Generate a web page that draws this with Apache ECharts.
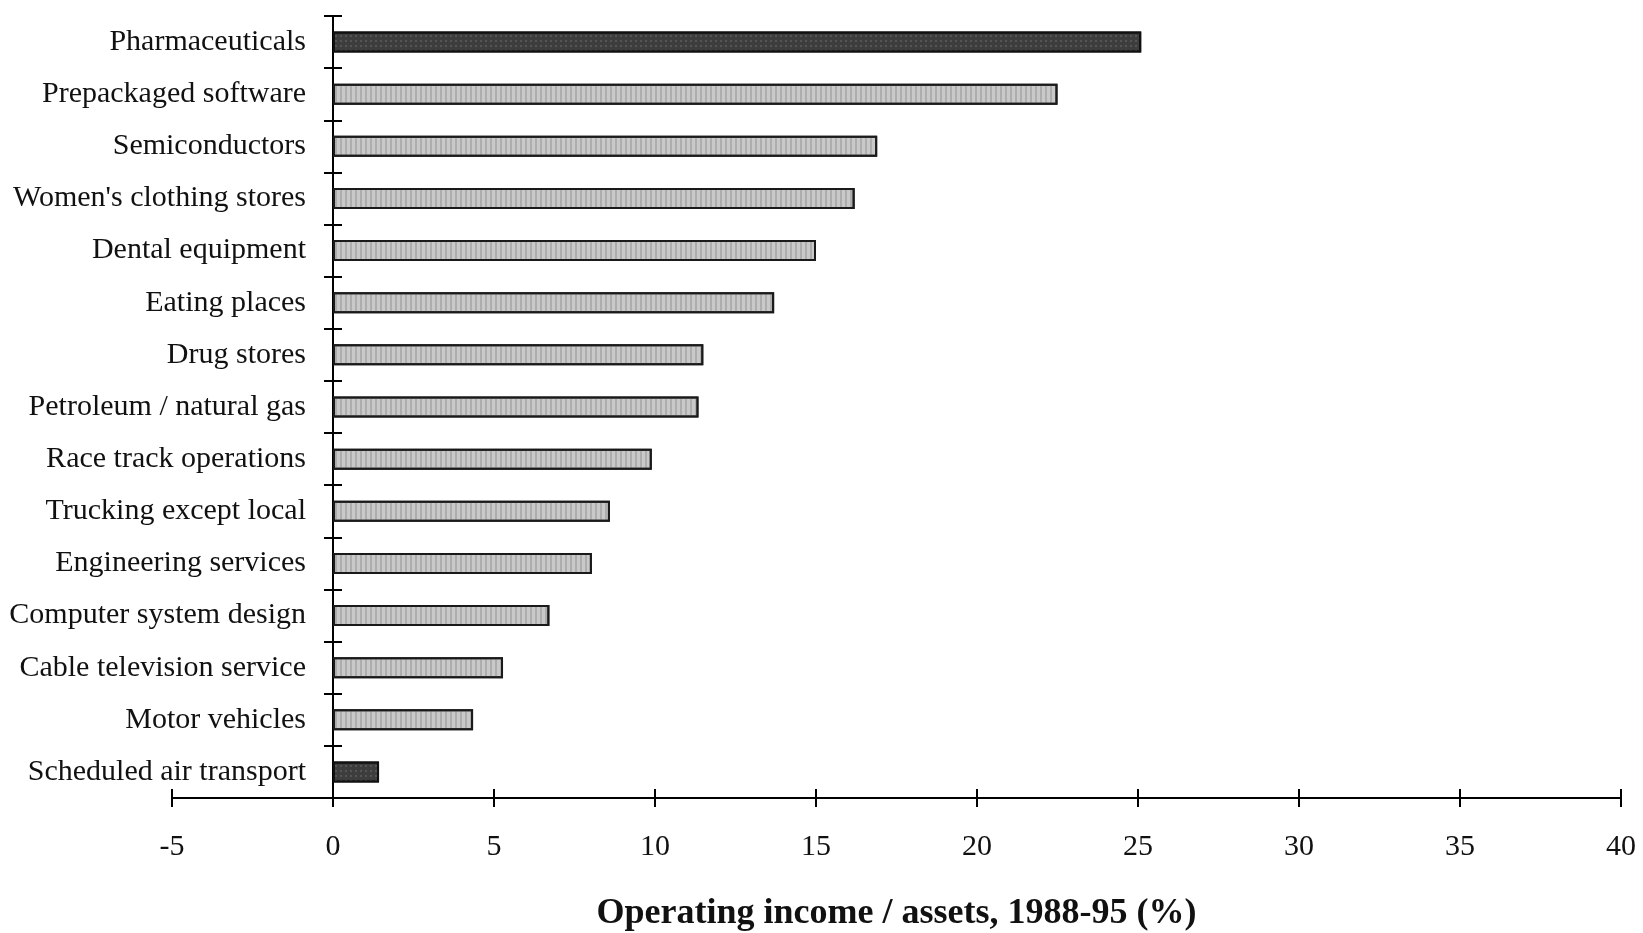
<!DOCTYPE html>
<html>
<head>
<meta charset="utf-8">
<script src="https://cdn.jsdelivr.net/npm/echarts@6/dist/echarts.min.js"></script>
<style>
  html, body { margin: 0; padding: 0; background: #fff; }
  #chart { width: 1643px; height: 933px; }
</style>
</head>
<body>
<div id="chart"></div>
<script>
const categories = [
  'Pharmaceuticals',
  'Prepackaged software',
  'Semiconductors',
  "Women's clothing stores",
  'Dental equipment',
  'Eating places',
  'Drug stores',
  'Petroleum / natural gas',
  'Race track operations',
  'Trucking except local',
  'Engineering services',
  'Computer system design',
  'Cable television service',
  'Motor vehicles',
  'Scheduled air transport'
];
const values = [25.1, 22.5, 16.9, 16.2, 15.0, 13.7, 11.5, 11.35, 9.9, 8.6, 8.04, 6.72, 5.28, 4.35, 1.43];
const darkCategories = ['Pharmaceuticals', 'Scheduled air transport'];
const xMin = -5, xMax = 40, xStep = 5;
const xTitle = 'Operating income / assets, 1988-95 (%)';

const serif = '"Liberation Serif", "Times New Roman", serif';
const lightStyle = {
  color: '#c9c9c9', borderColor: '#1a1a1a', borderWidth: 2,
  decal: { symbol: 'rect', symbolSize: 1, dashArrayX: [2, 3], dashArrayY: [10, 0], color: 'rgba(120,120,120,0.35)' }
};
const darkStyle = {
  color: '#3d3d3d', borderColor: '#111', borderWidth: 2,
  decal: { symbol: 'rect', symbolSize: 1, dashArrayX: [2, 3], dashArrayY: [2, 3], color: 'rgba(110,110,110,0.5)' }
};

const chart = echarts.init(document.getElementById('chart'));
const axisLineStyle = { color: '#000', width: 2 };
chart.setOption({
  animation: false,
  backgroundColor: '#fff',
  grid: { left: 172, right: 22, top: 16, bottom: 135, containLabel: false, outerBoundsMode: 'none' },
  xAxis: [
    {
      type: 'value', position: 'bottom', min: xMin, max: xMax, interval: xStep,
      name: xTitle, nameLocation: 'middle', nameGap: 98,
      nameTextStyle: { fontFamily: serif, fontWeight: 'bold', fontSize: 36, color: '#111' },
      axisLine: { show: true, lineStyle: axisLineStyle },
      axisTick: { show: true, inside: false, length: 9, lineStyle: { color: '#000', width: 2 } },
      axisLabel: { fontFamily: serif, fontSize: 30, color: '#111', margin: 34 },
      splitLine: { show: false }
    },
    {
      type: 'value', position: 'bottom', min: xMin, max: xMax, interval: xStep,
      axisLine: { show: true, lineStyle: axisLineStyle },
      axisTick: { show: true, inside: true, length: 9, lineStyle: { color: '#000', width: 2 } },
      axisLabel: { show: false },
      splitLine: { show: false }
    }
  ],
  yAxis: [
    {
      type: 'category', data: categories, inverse: true, position: 'left',
      axisLine: { show: true, onZero: true, lineStyle: axisLineStyle },
      axisTick: { show: true, inside: false, length: 9, lineStyle: { color: '#000', width: 2 } },
      axisLabel: { fontFamily: serif, fontSize: 30, color: '#111', margin: -134, align: 'right' },
      splitLine: { show: false }
    },
    {
      type: 'category', data: categories, inverse: true, position: 'left',
      axisLine: { show: true, onZero: true, lineStyle: axisLineStyle },
      axisTick: { show: true, inside: true, length: 9, lineStyle: { color: '#000', width: 2 } },
      axisLabel: { show: false },
      splitLine: { show: false }
    }
  ],
  series: [{
    type: 'bar', xAxisIndex: 0, yAxisIndex: 0, barWidth: 21,
    data: values.map((v, i) => ({
      value: v,
      itemStyle: darkCategories.includes(categories[i]) ? darkStyle : lightStyle
    }))
  }]
});
</script>
</body>
</html>
